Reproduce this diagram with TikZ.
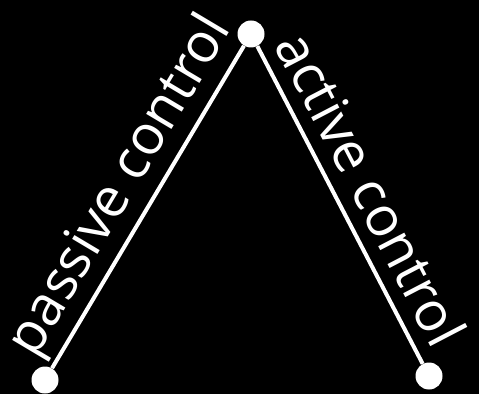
\documentclass[tikz,border=0pt]{standalone}
\usepackage{fontspec}
\setmainfont{Open Sans}
\usetikzlibrary{calc}
\begin{document}
\begin{tikzpicture}[x=1pt,y=1pt,
  dot/.style={circle,fill=white,draw=none,minimum size=27pt,inner sep=0pt},
  link/.style={draw=white,line width=4pt},
  lbl/.style={text=white,font=\fontsize{55}{60}\selectfont,inner sep=0pt,anchor=base}]
\fill[black] (0,0) rectangle (479,394);
\useasboundingbox (0,0) rectangle (479,394);
\node[dot] (L) at (45,14) {};
\node[dot] (T) at (251,360) {};
\node[dot] (R) at (429,18) {};
\path[link] (L) -- (T) node[midway,sloped,lbl,yshift=19pt,xshift=4pt] {passive control};
\path[link] (T) -- (R) node[midway,sloped,lbl,yshift=15pt] {active control};
\end{tikzpicture}
\end{document}
